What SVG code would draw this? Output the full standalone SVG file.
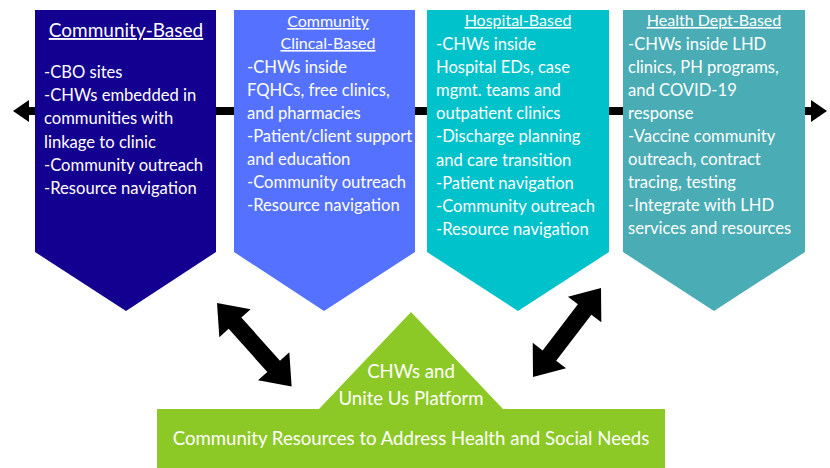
<svg xmlns="http://www.w3.org/2000/svg" width="830" height="468" viewBox="0 0 830 468">
<style>
text{font-family:Lato,"Open Sans","Liberation Sans",sans-serif;fill:#ffffff;}
.b{font-size:16.6px;}
.t{font-size:16px;text-decoration:underline;text-anchor:middle;}
.t1{font-size:19px;text-decoration:underline;text-anchor:middle;}
.c{font-size:18.6px;text-anchor:middle;}
.arr{fill:#000000;}
</style>
<rect width="830" height="468" fill="#ffffff"/>
<g id="connectors">
<rect x="26" y="107" width="788" height="8" fill="#000"/>
<polygon class="arr" points="13,111 29,100 29,122"/>
<polygon class="arr" points="827,111 811,100 811,122"/>
<polygon class="arr" transform="translate(217,303) rotate(48.2)" points="0,0 27,-21 27,-8.5 85,-8.5 85,-21 112,0 85,21 85,8.5 27,8.5 27,21"/>
<polygon class="arr" transform="translate(533,377) rotate(-52.6)" points="0,0 27,-21 27,-8.5 85,-8.5 85,-21 112,0 85,21 85,8.5 27,8.5 27,21"/>
</g>
<g id="node-community">
<polygon points="35,10 216,10 216,252 126,311 35,252" fill="#140090"/>
<text class="t1" x="126" y="37">Community-Based</text>
<text class="b" x="44" y="78">-CBO sites</text>
<text class="b" x="44" y="101">-CHWs embedded in</text>
<text class="b" x="44" y="124">communities with</text>
<text class="b" x="44" y="148">linkage to clinic</text>
<text class="b" x="44" y="171">-Community outreach</text>
<text class="b" x="44" y="194">-Resource navigation</text>
</g>
<g id="node-clinical">
<polygon points="234,10 415,10 415,252 324,311 234,252" fill="#5472FF"/>
<text class="t" x="328" y="27">Community</text>
<text class="t" x="328" y="49">Clincal-Based</text>
<text class="b" x="247" y="73">-CHWs inside</text>
<text class="b" x="247" y="96">FQHCs, free clinics,</text>
<text class="b" x="247" y="119">and pharmacies</text>
<text class="b" x="247" y="142">-Patient/client support</text>
<text class="b" x="247" y="165">and education</text>
<text class="b" x="247" y="188">-Community outreach</text>
<text class="b" x="247" y="211">-Resource navigation</text>
</g>
<g id="node-hospital">
<polygon points="427,10 609,10 609,252 518,311 427,252" fill="#00C2CB"/>
<text class="t" x="518" y="26">Hospital-Based</text>
<text class="b" x="436" y="50">-CHWs inside</text>
<text class="b" x="436" y="73">Hospital EDs, case</text>
<text class="b" x="436" y="96">mgmt. teams and</text>
<text class="b" x="436" y="119">outpatient clinics</text>
<text class="b" x="436" y="142">-Discharge planning</text>
<text class="b" x="436" y="166">and care transition</text>
<text class="b" x="436" y="189">-Patient navigation</text>
<text class="b" x="436" y="212">-Community outreach</text>
<text class="b" x="436" y="235">-Resource navigation</text>
</g>
<g id="node-healthdept">
<polygon points="623,10 805,10 805,252 714,311 623,252" fill="#4AACB4"/>
<text class="t" x="714" y="26">Health Dept-Based</text>
<text class="b" x="628" y="50">-CHWs inside LHD</text>
<text class="b" x="628" y="73">clinics, PH programs,</text>
<text class="b" x="628" y="96">and COVID-19</text>
<text class="b" x="628" y="119">response</text>
<text class="b" x="628" y="142">-Vaccine community</text>
<text class="b" x="628" y="165">outreach, contract</text>
<text class="b" x="628" y="188">tracing, testing</text>
<text class="b" x="628" y="211">-Integrate with LHD</text>
<text class="b" x="628" y="234">services and resources</text>
</g>
<g id="node-platform">
<polygon points="157,409 319,409 411,312 503,409 665,409 665,468 157,468" fill="#8DC926"/>
<text class="c" x="411" y="378">CHWs and</text>
<text class="c" x="411" y="405">Unite Us Platform</text>
<text class="c" x="411" y="445">Community Resources to Address Health and Social Needs</text>
</g>
</svg>
